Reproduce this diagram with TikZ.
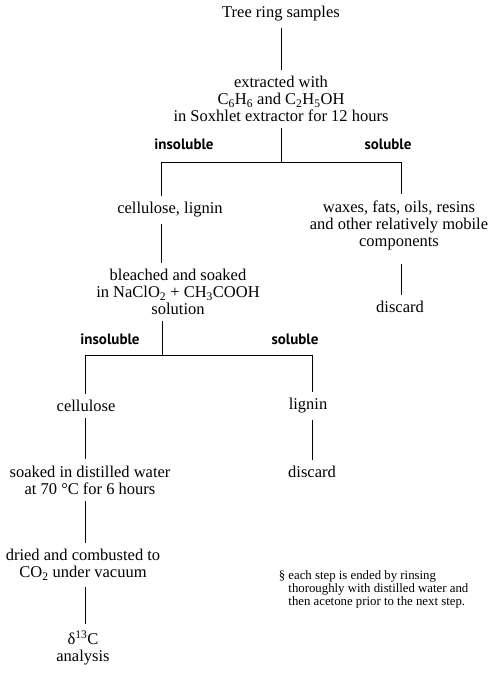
\documentclass[tikz,border=0pt]{standalone}
\usepackage{fontspec}
\setmainfont{Liberation Serif}
\newfontfamily\branchfont{PT Sans}
\begin{document}
\begin{tikzpicture}[x=1pt,y=-1pt,line width=0.9pt,
	stage/.style={align=center,inner xsep=0pt,inner ysep=6pt,font=\fontsize{16.5}{17}\selectfont},
	branch/.style={inner sep=0pt,font=\branchfont\fontsize{15}{16}\selectfont\bfseries},
	note/.style={align=left,inner sep=0pt,font=\fontsize{12.8}{13}\selectfont}]
	\useasboundingbox (0,0) rectangle (489,674);
	% main chain
	\node[stage] (tree) at (281,14) {Tree ring samples};
	\node[stage] (extr) at (281,99) {extracted with\\C\textsubscript{6}H\textsubscript{6} and C\textsubscript{2}H\textsubscript{5}OH\\in Soxhlet extractor for 12 hours};
	\coordinate (j1) at (281,162);
	\coordinate (j1l) at (161,162);
	\coordinate (j1r) at (401,162);
	\node[branch] (ins1) at (184,144) {insoluble};
	\node[branch] (sol1) at (388,144) {soluble};
	\node[stage] (cl) at (170,210) {cellulose, lignin};
	\node[stage] (wax) at (399,225) {waxes, fats, oils, resins\\and other relatively mobile\\components};
	\node[stage] (disc1) at (400,307) {discard};
	\node[stage] (bl) at (178,292) {bleached and soaked\\in NaClO\textsubscript{2} + CH\textsubscript{3}COOH\\solution};
	\coordinate (j2) at (162,355);
	\coordinate (j2l) at (85,355);
	\coordinate (j2r) at (312,355);
	\node[branch] (ins2) at (110,339) {insoluble};
	\node[branch] (sol2) at (295,339) {soluble};
	\node[stage] (cell) at (86,406) {cellulose};
	\node[stage] (lig) at (308,406) {lignin};
	\node[stage] (soak) at (90,480) {soaked in distilled water\\at 70 °C for 6 hours};
	\node[stage] (disc2) at (312,472) {discard};
	\node[stage] (dry) at (83,565) {dried and combusted to\\CO\textsubscript{2} under vacuum};
	\node[stage] (delta) at (83,648) {δ\textsuperscript{13}C\\analysis};
	\node[note,anchor=north west] (fn) at (288,570) {\llap{\S\ }each step is ended by rinsing\\thoroughly with distilled water and\\then acetone prior to the next step.};
	% connectors
	\draw (tree) -- (extr);
	\draw (extr) -- (j1);
	\draw (j1l) -- (j1r);
	\draw (j1l) -- (j1l |- cl.north);
	\draw (j1r) -- (j1r |- wax.north);
	\draw (cl.south -| j1l) -- (bl.north -| j1l);
	\draw ([yshift=-8pt]wax.south -| j1r) -- (disc1.north -| j1r);
	\draw (bl.south -| j2) -- (j2);
	\draw (j2l) -- (j2r);
	\draw (j2l) -- (j2l |- cell.north);
	\draw (j2r) -- (j2r |- lig.north);
	\draw (cell.south -| j2l) -- (soak.north -| j2l);
	\draw (lig.south -| j2r) -- (disc2.north -| j2r);
	\draw (soak.south -| j2l) -- (dry.north -| j2l);
	\draw (dry.south -| j2l) -- (delta.north -| j2l);
\end{tikzpicture}
\end{document}
